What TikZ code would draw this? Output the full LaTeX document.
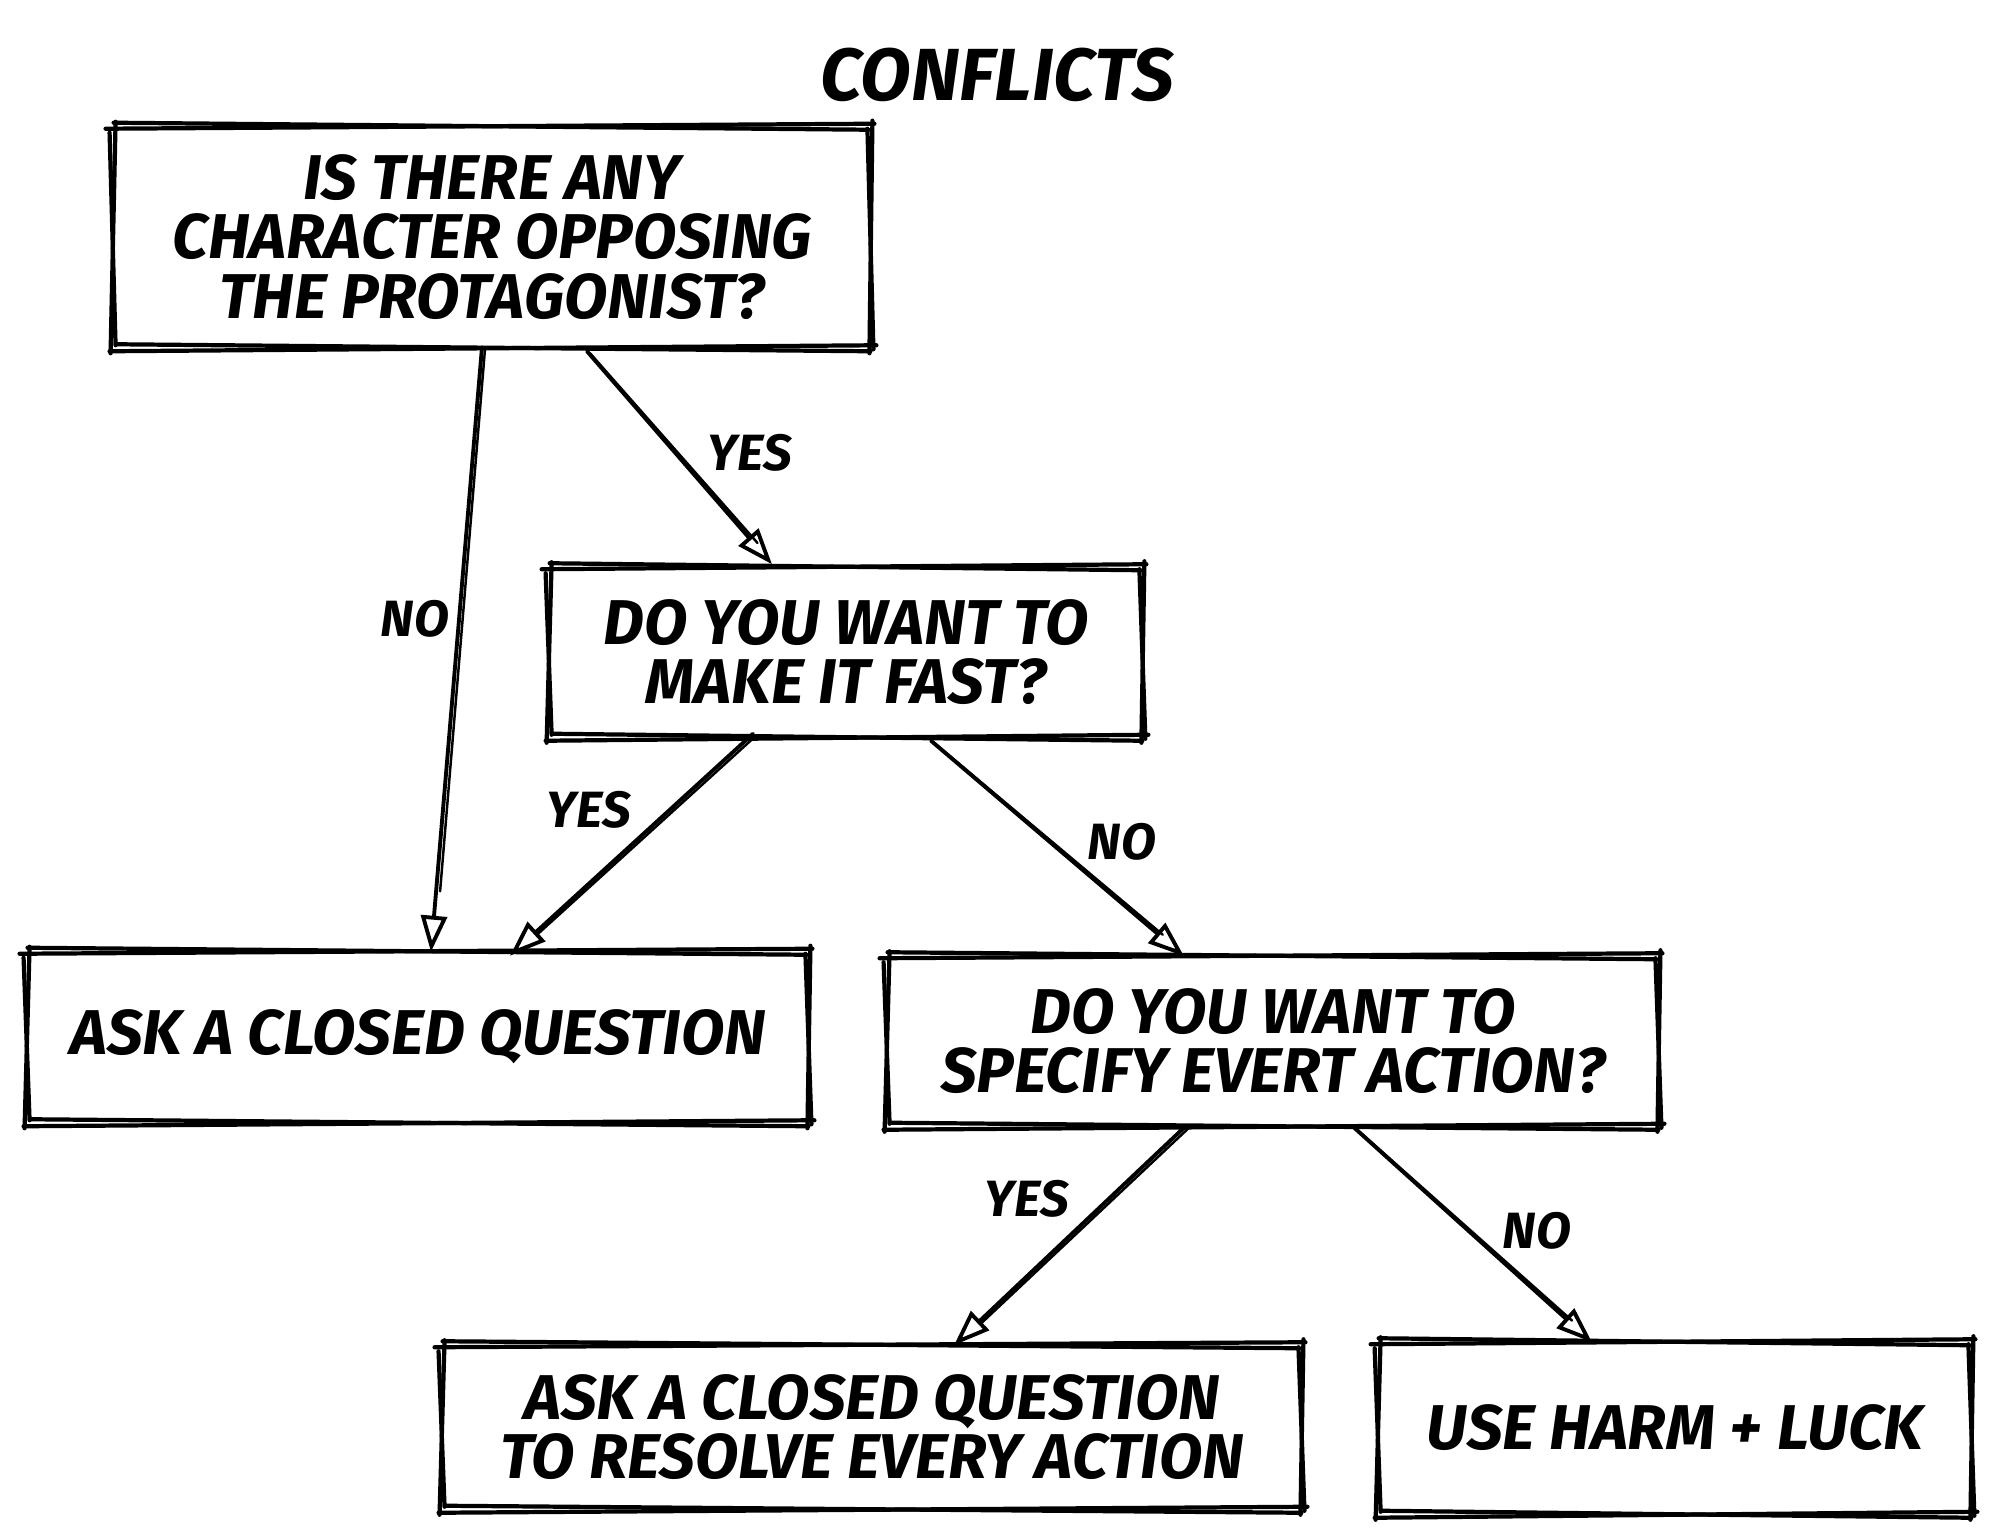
\documentclass[tikz,border=0pt]{standalone}
\usepackage{fontspec}
\setmainfont{Fira Sans}
\usetikzlibrary{arrows.meta,calc}
\tikzset{
  sk/.style={line width=1.2pt,line cap=round,black},
  box/.style={draw=none,align=center,font=\fontsize{18}{16.8}\selectfont\bfseries\itshape,inner sep=0pt},
  lbl/.style={font=\fontsize{14.5}{15}\selectfont\bfseries\itshape,inner sep=0pt},
  arr/.style={line width=1.1pt,line cap=round,-{Triangle[open,length=0.36cm,width=0.26cm,line width=1.1pt]}},
  arr2/.style={line width=0.7pt,line cap=round},
}
\newcommand\skbox[1]{%
  \draw[sk] ([shift={(-8,2)}]#1.north west) -- ([shift={(4,-3)}]#1.north east);
  \draw[sk] ([shift={(0,-4)}]#1.north west) -- ([shift={(-2,3)}]#1.north east);
  \draw[sk] ([shift={(2,-6)}]#1.north east) -- ([shift={(-1,6)}]#1.south east);
  \draw[sk] ([shift={(-3,2)}]#1.north east) -- ([shift={(3,2)}]#1.south east);
  \draw[sk] ([shift={(6,-2)}]#1.south east) -- ([shift={(-4,4)}]#1.south west);
  \draw[sk] ([shift={(0,4)}]#1.south east) -- ([shift={(3,-3)}]#1.south west);
  \draw[sk] ([shift={(-3,6)}]#1.south west) -- ([shift={(2,-5)}]#1.north west);
  \draw[sk] ([shift={(2,-2)}]#1.south west) -- ([shift={(-4,6)}]#1.north west);
}
% main stroke with tip plus a thin second stroke ending at the tip's base
\newcommand\skarrow[2]{%
  \draw[arr] (#1) -- (#2);
  \draw[arr2] ($(#1)+(3,2)$) -- ($(#1)!0.9!(#2)+(4,0)$);
}
\begin{document}
\begin{tikzpicture}[x=0.01cm,y=-0.01cm]
\useasboundingbox[fill=white] (0,0) rectangle (2000,1540);

\node[font=\fontsize{21}{22}\selectfont\bfseries\itshape,inner sep=0pt] (title) at (997,75) {CONFLICTS};

\node[box,minimum width=7.55cm,minimum height=2.19cm] (b1) at (492,237)
  {IS THERE ANY\\ CHARACTER OPPOSING\\ THE PROTAGONIST?};
\node[box,minimum width=5.91cm,minimum height=1.68cm] (b2) at (846,652)
  {DO YOU WANT TO\\ MAKE IT FAST?};
\node[box,minimum width=7.79cm,minimum height=1.69cm] (b3) at (418,1037)
  {ASK A CLOSED QUESTION};
\node[box,minimum width=7.69cm,minimum height=1.68cm] (b4) at (1273,1041)
  {DO YOU WANT TO\\ SPECIFY EVERT ACTION?};
\node[box,minimum width=8.57cm,minimum height=1.62cm] (b5) at (872,1427)
  {ASK A CLOSED QUESTION\\ TO RESOLVE EVERY ACTION};
\node[box,minimum width=5.91cm,minimum height=1.70cm] (b6) at (1675,1428)
  {USE HARM + LUCK};

\skbox{b1}\skbox{b2}\skbox{b3}\skbox{b4}\skbox{b5}\skbox{b6}

% connector end points on the boxes
\coordinate (a1s) at ([shift={(-10,0)}]b1.south);
\coordinate (a1e) at ([shift={(13,0)}]b3.north);
\coordinate (a2s) at ([shift={(95,4)}]b1.south);
\coordinate (a2e) at ([shift={(-74,-3)}]b2.north);
\coordinate (a3s) at ([shift={(-93,-3)}]b2.south);
\coordinate (a3e) at ([shift={(92,4)}]b3.north);
\coordinate (a4s) at ([shift={(85,4)}]b2.south);
\coordinate (a4e) at ([shift={(-89,0)}]b4.north);
\coordinate (a5s) at ([shift={(-87,0)}]b4.south);
\coordinate (a5e) at ([shift={(82,0)}]b5.north);
\coordinate (a6s) at ([shift={(79,0)}]b4.south);
\coordinate (a6e) at ([shift={(-83,0)}]b6.north);

\skarrow{a1s}{a1e}
\skarrow{a2s}{a2e}
\skarrow{a3s}{a3e}
\skarrow{a4s}{a4e}
\skarrow{a5s}{a5e}
\skarrow{a6s}{a6e}

% labels
\node[lbl] (l1) at (415,619) {NO};
\node[lbl] (l2) at (750,453) {YES};
\node[lbl] (l3) at (589,810) {YES};
\node[lbl] (l4) at (1122,842) {NO};
\node[lbl] (l5) at (1027,1199) {YES};
\node[lbl] (l6) at (1537,1231) {NO};
\end{tikzpicture}
\end{document}
